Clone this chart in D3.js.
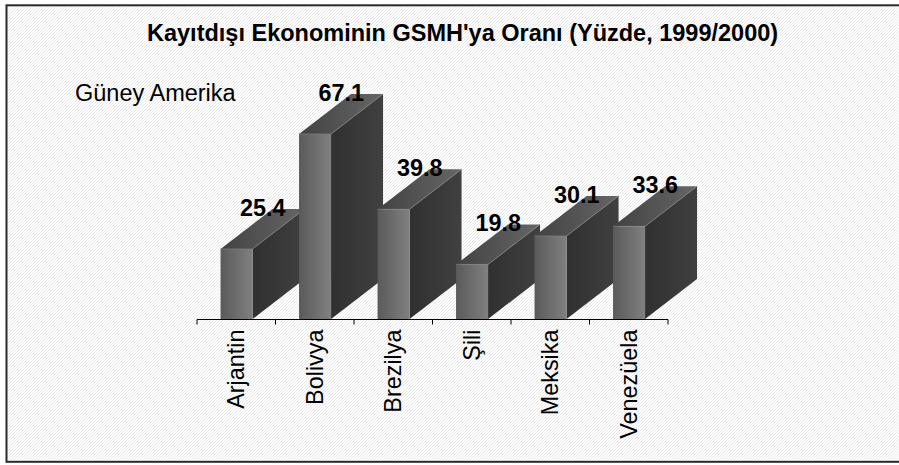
<!DOCTYPE html>
<html><head><meta charset="utf-8">
<style>html,body{margin:0;padding:0;background:#fff}svg{display:block}text{font-family:"Liberation Sans",Arial,sans-serif;fill:#000}</style>
<script src="https://cdn.jsdelivr.net/npm/d3@7"></script></head><body>
<script>
const categories=["Arjantin","Bolivya","Brezilya","Şili","Meksika","Venezüela"];
const values=[25.4,67.1,39.8,19.8,30.1,33.6];
const titleText="Kayıtdışı Ekonominin GSMH'ya Oranı (Yüzde, 1999/2000)";
const regionText="Güney Amerika";
const W=899,H=465;
const svg=d3.select("body").append("svg").attr("width",W).attr("height",H);
const defs=svg.append("defs");
const pat=defs.append("pattern").attr("id","bg").attr("width",3).attr("height",3).attr("patternUnits","userSpaceOnUse");
pat.append("rect").attr("width",3).attr("height",3).attr("fill","#fff");
pat.append("path").attr("d","M0 2h1v1h-1zM1 1h1v1h-1zM2 0h1v1h-1z").attr("fill","#e8e8e8");
function lg(id,a,b){const s=defs.append("linearGradient").attr("id",id);
 s.append("stop").attr("offset","0").attr("stop-color",a);s.append("stop").attr("offset","1").attr("stop-color",b);}
lg("front","#5a5a5a","#808080");
lg("top","#424242","#666666");
lg("side","#303030","#404040");
svg.append("rect").attr("x",6.5).attr("y",5.3).attr("width",W).attr("height",456.5).attr("fill","url(#bg)").attr("stroke","#2a2a2a").attr("stroke-width",2);
const x=d3.scaleBand().domain(categories).range([197,668]);
const y=d3.scaleLinear().domain([0,67.1]).range([319,134]);
const bw=32,dx=52,dy=40;
const g=svg.selectAll("g.bar").data(categories.map((c,i)=>({c,v:values[i]}))).join("g").attr("class","bar");
const L=d=>x(d.c)+x.bandwidth()/2-bw/2+0.3;
g.append("path").attr("fill","url(#side)").attr("d",d=>`M${L(d)+bw} ${y(d.v)}l${dx} ${-dy}V${y(0)-dy}l${-dx} ${dy}z`);
g.append("path").attr("fill","url(#top)").attr("d",d=>`M${L(d)} ${y(d.v)}l${dx} ${-dy}h${bw}l${-dx} ${dy}z`);
g.append("rect").attr("x",L).attr("y",d=>y(d.v)).attr("width",bw).attr("height",d=>y(0)-y(d.v)).attr("fill","url(#front)");
g.append("path").attr("fill","none").attr("stroke","#808080").attr("stroke-width",.7).attr("d",d=>`M${L(d)} ${y(d.v)}h${bw}l${dx} ${-dy}`);
const ax=svg.append("g").attr("transform",`translate(0,${y(0)+0.5})`);
ax.append("line").attr("x1",197).attr("x2",668).attr("stroke","#000");
const edges=categories.map(c=>x(c)).concat([668]);
ax.selectAll("line.t").data(edges).join("line").attr("class","t").attr("x1",d=>d).attr("x2",d=>d).attr("y1",0).attr("y2",5).attr("stroke","#000");
ax.selectAll("text").data(categories).join("text").attr("text-anchor","end").attr("font-size",23.4)
 .attr("transform",c=>`translate(${x(c)+x.bandwidth()/2+8},10) rotate(-90)`).text(c=>c);
svg.selectAll("text.v").data(values).join("text").attr("class","v").attr("text-anchor","middle").attr("font-size",23.4).attr("font-weight","bold")
 .attr("x",(d,i)=>x(categories[i])+x.bandwidth()/2+26.5).attr("y",d=>y(d)-33).text(d=>d.toFixed(1));
svg.append("text").attr("x",147).attr("y",41).attr("font-size",23.5).attr("font-weight","bold").text(titleText);
svg.append("text").attr("x",75).attr("y",101).attr("font-size",23.5).text(regionText);
</script></body></html>
